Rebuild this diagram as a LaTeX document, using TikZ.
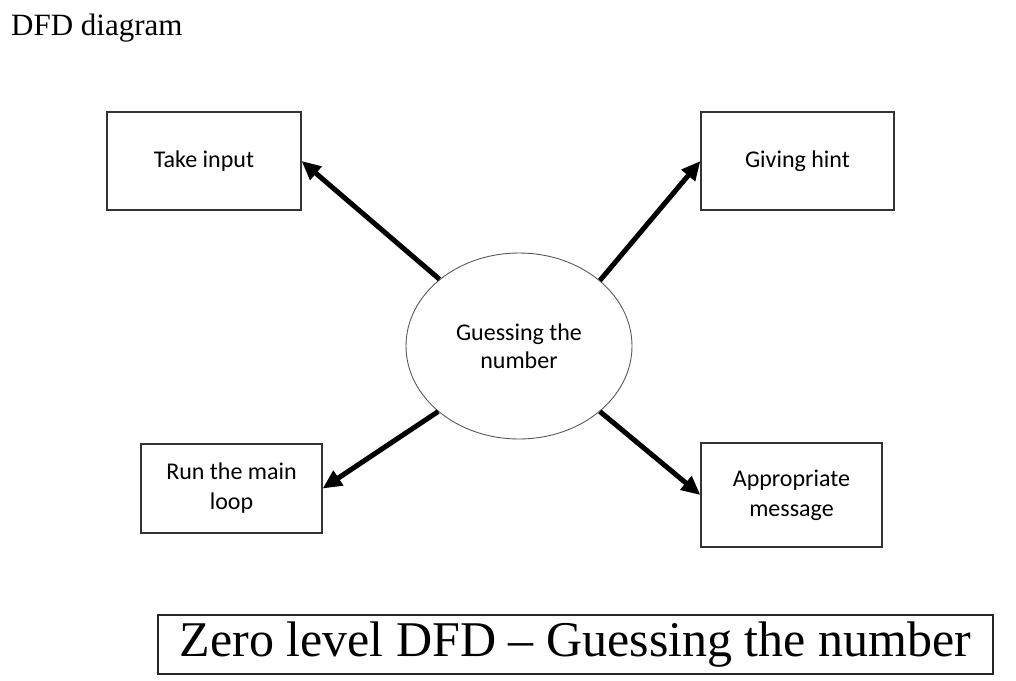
\documentclass[tikz,border=0pt]{standalone}
\usepackage{fontspec}
\setmainfont{Liberation Serif}
\newfontfamily\boxfont{Carlito}
\usetikzlibrary{shapes.geometric,arrows.meta}
\tikzset{
  procbox/.style={draw=black!80,line width=1.2pt,inner sep=0pt,align=center,
    font=\boxfont\fontsize{24}{30}\selectfont},
  bubble/.style={ellipse,draw=black!65,line width=0.9pt,inner sep=0pt,align=center,
    minimum width=226pt,minimum height=186pt,font=\boxfont\fontsize{24}{28}\selectfont},
  flow/.style={-{Triangle[length=19pt,width=17pt]},line width=5pt}
}
\begin{document}
\begin{tikzpicture}[x=1pt,y=-1pt]
      \useasboundingbox (0,0) rectangle (1016,680);
      \node[anchor=base west,inner sep=0pt,font=\fontsize{31}{36}\selectfont] (head) at (11,35) {DFD diagram};
      \draw
        (519,346) node[bubble] (main){Guessing the\\number}
        (204,161) node[procbox,minimum width=194pt,minimum height=98pt] (input){Take input}
        (797.5,161) node[procbox,minimum width=193pt,minimum height=98pt] (hint){Giving hint}
        (231.5,488.5) node[procbox,minimum width=181pt,minimum height=89pt] (loop){Run the main\\loop}
        (791.5,495) node[procbox,minimum width=181pt,minimum height=104pt] (msg){Appropriate\\message};
      \begin{scope}[flow]
        \draw (main.140.8) to (input.east);
        \draw (main.39.2) to (hint.west);
        \draw (main.219.2) to (loop.east);
        \draw (main.-39.2) to (msg.west);
      \end{scope}
      \node[draw=black!85,line width=1.3pt,minimum width=835pt,minimum height=59pt,inner sep=0pt,
        font=\fontsize{50}{56}\selectfont] (title) at (575.5,644.5) {Zero level DFD -- Guessing the number};
    \end{tikzpicture}
\end{document}
